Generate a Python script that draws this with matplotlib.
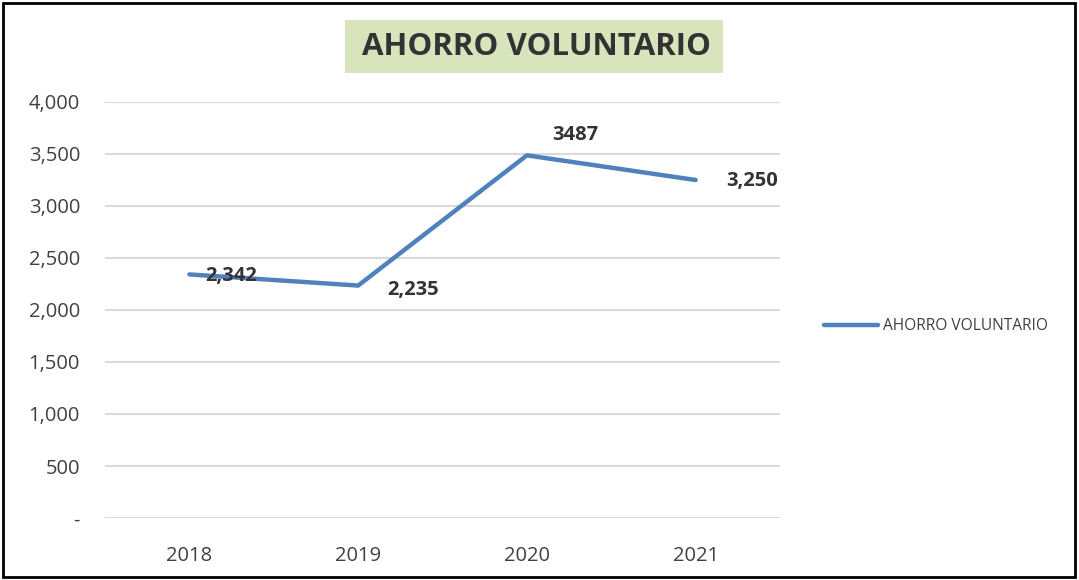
import matplotlib.pyplot as plt
from matplotlib.ticker import FuncFormatter
from matplotlib.patches import Rectangle

years = ['2018', '2019', '2020', '2021']
ahorro = [2342, 2235, 3487, 3250]
value_labels = ['2,342', '2,235', '3487', '3,250']
y_ticks = [0, 500, 1000, 1500, 2000, 2500, 3000, 3500, 4000]

plt.rcParams['font.family'] = ['Open Sans', 'DejaVu Sans']

fig = plt.figure(figsize=(10.79, 5.80), dpi=100)
ax = fig.add_axes([105 / 1079, 1 - 518 / 580, 675 / 1079, 416 / 580])

x = list(range(len(years)))
line, = ax.plot(x, ahorro, color='#4F81BD', linewidth=3.2, solid_capstyle='round',
                label='AHORRO VOLUNTARIO')

# data labels
offsets = [(42, -2), (55, -4), (48, 20), (56, -1)]
for xi, yi, lab, (dx, dy) in zip(x, ahorro, value_labels, offsets):
    ax.annotate(lab, (xi, yi), xytext=(dx, dy), textcoords='offset pixels',
                ha='center', va='center', fontsize=14.5, fontweight='bold', color='#333333')

ax.set_xlim(-0.5, 3.5)
ax.set_ylim(0, 4000)
ax.set_xticks(x)
ax.set_xticklabels(years)
ax.set_yticks(y_ticks)
ax.yaxis.set_major_formatter(FuncFormatter(lambda v, p: '-' if v == 0 else f'{int(v):,}'))
ax.tick_params(axis='both', length=0, labelsize=14.5, labelcolor='#404040')
ax.tick_params(axis='y', pad=18)
ax.tick_params(axis='x', pad=20)
ax.grid(axis='y', color='#D9D9D9', linewidth=1.5)
ax.set_axisbelow(True)
for s in ax.spines.values():
    s.set_visible(False)

leg = fig.legend(handles=[line], loc='center left', bbox_to_anchor=(810 / 1079, 1 - 326 / 580),
                 frameon=False, fontsize=11.2, handlelength=3.5, handletextpad=0.3)
for t in leg.get_texts():
    t.set_color('#404040')

# title with green box
fig.patches.append(Rectangle((345 / 1079, 1 - 73 / 580), 378 / 1079, 53 / 580,
                             transform=fig.transFigure, facecolor='#D8E4BC', edgecolor='none'))
fig.text(537 / 1079, 1 - 47 / 580, 'AHORRO VOLUNTARIO', ha='center', va='center',
         fontsize=22.5, fontweight='bold', color='#333333')

fig.patches.append(Rectangle((3 / 1079, 3 / 580), 1072 / 1079, 574 / 580, transform=fig.transFigure,
                             fill=False, edgecolor='black', linewidth=2))

fig.savefig('out.png', dpi=100)
